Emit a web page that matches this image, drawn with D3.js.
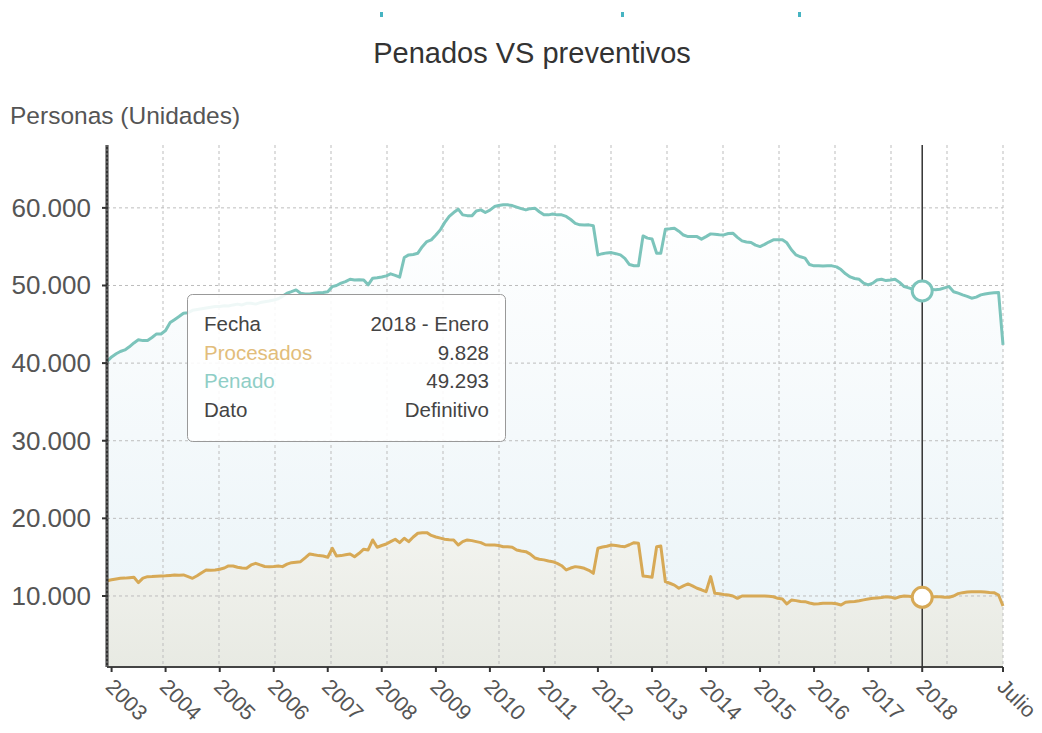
<!DOCTYPE html>
<html>
<head>
<meta charset="utf-8">
<style>
  body { margin: 0; background: #fff; }
  svg text { font-family: "Liberation Sans", Arial, sans-serif; }
</style>
</head>
<body>
<svg id="chart" width="1042" height="733"></svg>
<script src="https://cdn.jsdelivr.net/npm/d3@7/dist/d3.min.js"></script>
<script>
// monthly series, first value is Dic 2002, last one Julio 2019
var firstMonth = new Date(2002, 11, 1);
var lastMonth = new Date(2019, 6, 1);

var penado = [40200,
  40800, 41200, 41500, 41700, 42100, 42600, 43000, 42900, 42900, 43300, 43760, 43760,
  44200, 45220, 45600, 46000, 46430, 46500, 46800, 46900, 47000, 47100, 47200, 47280,
  47300, 47400, 47350, 47500, 47600, 47500, 47700, 47720, 47600, 47800, 47900, 48000,
  48140, 48300, 48600, 49000, 49200, 49430, 49000, 48920, 48900, 49000, 49050, 49090,
  49200, 49860, 50000, 50300, 50500, 50810, 50700, 50750, 50720, 50080, 50940, 51000,
  51100, 51240, 51500, 51300, 51070, 53600, 53940, 54000, 54160, 55000, 55660, 55880,
  56500, 57200, 58100, 58900, 59400, 59830, 59100, 59000, 58970, 59600, 59740, 59400,
  59700, 60170, 60300, 60390, 60390, 60300, 60100, 59900, 59740, 59900, 59960, 59500,
  59100, 59100, 59200, 59100, 59100, 58900, 58500, 58000, 57810, 57800, 57810, 57700,
  53940, 54100, 54200, 54240, 54100, 53940, 53500, 52700, 52550, 52530, 56390, 56100,
  56000, 54160, 54160, 57250, 57300, 57380, 57000, 56500, 56300, 56300, 56300, 55970,
  56300, 56650, 56600, 56550, 56520, 56700, 56740, 56200, 55750, 55600, 55530, 55200,
  55010, 55300, 55600, 55880, 55880, 55880, 55500, 54600, 53940, 53700, 53520, 52700,
  52530, 52550, 52500, 52530, 52530, 52400, 52050, 51500, 51100, 50900, 50800, 50300,
  50080, 50300, 50700, 50810, 50630, 50700, 50810, 50400, 49860, 49700, 49500, 49400,
  49293, 49400, 49500, 49450, 49520, 49700, 49860, 49200, 49010, 48800, 48600, 48360,
  48500, 48790, 48900, 49000, 49050, 49090, 42350];

var procesados = [11970,
  12100, 12200, 12280, 12300, 12350, 12410, 11720, 12300, 12490, 12500, 12550, 12580,
  12600, 12650, 12700, 12680, 12710, 12500, 12280, 12600, 13000, 13350, 13300, 13350,
  13440, 13600, 13870, 13870, 13700, 13600, 13570, 14000, 14210, 14000, 13800, 13780,
  13800, 13870, 13780, 14100, 14290, 14350, 14420, 14900, 15410, 15300, 15200, 15150,
  14990, 16150, 15150, 15200, 15300, 15410, 15060, 15500, 16020, 15930, 17220, 16280,
  16500, 16700, 17000, 17310, 16870, 17440, 17000, 17600, 18080, 18150, 18160, 17800,
  17600, 17450, 17310, 17250, 17220, 16570, 17000, 17220, 17130, 17000, 16870, 16600,
  16570, 16570, 16500, 16350, 16350, 16280, 15930, 15800, 15710, 15400, 14900, 14730,
  14650, 14500, 14420, 14200, 13900, 13350, 13600, 13780, 13700, 13570, 13300, 12920,
  16150, 16300, 16400, 16570, 16500, 16400, 16350, 16600, 16870, 16790, 12580, 12500,
  12410, 16350, 16440, 11840, 11640, 11400, 10990, 11300, 11550, 11300, 10990, 10800,
  10550, 12490, 10340, 10300, 10200, 10130, 10000, 9700, 10000, 10000, 10000, 10000,
  10000, 10000, 9950, 9900, 9700, 9600, 8970, 9480, 9400, 9300, 9270, 9100,
  8970, 9000, 9050, 9060, 9060, 9000, 8840, 9200, 9270, 9300, 9390, 9500,
  9600, 9700, 9750, 9800, 9910, 9850, 9700, 9900, 10000, 9950, 9900, 9850,
  9828, 9850, 9900, 9900, 9910, 9830, 9830, 10000, 10300, 10430, 10500, 10550,
  10550, 10550, 10500, 10450, 10430, 10130, 8710];

var yTicks = [10000, 20000, 30000, 40000, 50000, 60000];
var xTickYears = [2003, 2004, 2005, 2006, 2007, 2008, 2009, 2010, 2011, 2012, 2013, 2014, 2015, 2016, 2017, 2018];
var xTickLabels = ["2003", "2004", "2005", "2006", "2007", "2008", "2009", "2010", "2011", "2012", "2013", "2014", "2015", "2016", "2017", "2018", "Julio"];

var cursorMonth = new Date(2018, 0, 1);
var tipLabels = ["Fecha", "Procesados", "Penado", "Dato"];
var tipTexts = ["2018 - Enero", null, null, "Definitivo"];

var colPenado = "#7cc4bb", colProc = "#d7a956";

var months = d3.timeMonth.range(firstMonth, d3.timeMonth.offset(lastMonth, 1));
var rows = months.map(function(m, i) { return {date: m, pen: penado[i], proc: procesados[i]}; });

var es = d3.formatLocale({decimal: ",", thousands: ".", grouping: [3], currency: ["", " €"]});
var fmt = es.format(",d");

var pLeft = 107, pRight = 1003, pTop = 145, pBottom = 667;

var svg = d3.select("#chart");
var defs = svg.append("defs");

var gPen = defs.append("linearGradient").attr("id", "gpen")
  .attr("gradientUnits", "userSpaceOnUse").attr("x1", 0).attr("x2", 0).attr("y1", 200).attr("y2", pBottom);
gPen.append("stop").attr("offset", 0).attr("stop-color", "#ffffff");
gPen.append("stop").attr("offset", 1).attr("stop-color", "#e9f3f7");

var gProc = defs.append("linearGradient").attr("id", "gproc")
  .attr("gradientUnits", "userSpaceOnUse").attr("x1", 0).attr("x2", 0).attr("y1", 520).attr("y2", pBottom);
gProc.append("stop").attr("offset", 0).attr("stop-color", "#f3f4f0");
gProc.append("stop").attr("offset", 1).attr("stop-color", "#e8eae3");

var x = d3.scaleTime().domain([firstMonth, lastMonth]).range([pLeft, pRight]);
var y = d3.scaleLinear().domain([850, 68100]).range([pBottom, pTop]);
var gridX = d3.scaleLinear().domain([0, 16]).range([pLeft, pRight]);

// little cut-off marks from the block above
svg.selectAll("rect.cut").data([380, 621, 798]).enter().append("rect")
  .attr("x", function(d) { return d; }).attr("y", 12).attr("width", 3).attr("height", 5)
  .attr("fill", "#46b4c2");

svg.append("text").attr("x", 532).attr("y", 63).attr("text-anchor", "middle")
  .attr("font-size", 29).attr("fill", "#333").text("Penados VS preventivos");
svg.append("text").attr("x", 10).attr("y", 124)
  .attr("font-size", 24.5).attr("fill", "#555").text("Personas (Unidades)");

// areas
svg.append("path").datum(rows)
  .attr("d", d3.area().x(function(d) { return x(d.date); }).y0(pBottom).y1(function(d) { return y(d.pen); }))
  .attr("fill", "url(#gpen)");
svg.append("path").datum(rows)
  .attr("d", d3.area().x(function(d) { return x(d.date); }).y0(pBottom).y1(function(d) { return y(d.proc); }))
  .attr("fill", "url(#gproc)");

// grid
svg.selectAll("line.gy").data(yTicks).enter().append("line")
  .attr("x1", pLeft).attr("x2", pRight)
  .attr("y1", function(d) { return y(d); }).attr("y2", function(d) { return y(d); })
  .attr("stroke", "#bdbdbd").attr("stroke-dasharray", "3,3");
svg.selectAll("line.gx").data(d3.range(1, 17)).enter().append("line")
  .attr("x1", function(d) { return gridX(d); }).attr("x2", function(d) { return gridX(d); })
  .attr("y1", pTop).attr("y2", pBottom)
  .attr("stroke", "#bdbdbd").attr("stroke-dasharray", "3,3");

// lines
svg.append("path").datum(rows)
  .attr("d", d3.line().x(function(d) { return x(d.date); }).y(function(d) { return y(d.pen); }))
  .attr("fill", "none").attr("stroke", colPenado).attr("stroke-width", 3).attr("stroke-linejoin", "round");
svg.append("path").datum(rows)
  .attr("d", d3.line().x(function(d) { return x(d.date); }).y(function(d) { return y(d.proc); }))
  .attr("fill", "none").attr("stroke", colProc).attr("stroke-width", 3).attr("stroke-linejoin", "round");

// y axis
svg.append("line").attr("x1", pLeft).attr("x2", pLeft).attr("y1", pTop).attr("y2", pBottom)
  .attr("stroke", "#333").attr("stroke-width", 3);
svg.append("line").attr("x1", pLeft).attr("x2", pLeft).attr("y1", pTop).attr("y2", pBottom)
  .attr("stroke", "#888").attr("stroke-width", 1).attr("stroke-dasharray", "2,2");
svg.selectAll("line.yt").data(yTicks).enter().append("line")
  .attr("x1", pLeft - 5).attr("x2", pLeft)
  .attr("y1", function(d) { return y(d); }).attr("y2", function(d) { return y(d); })
  .attr("stroke", "#333").attr("stroke-width", 2);
svg.selectAll("text.yl").data(yTicks).enter().append("text")
  .attr("x", 91).attr("y", function(d) { return y(d) + 9; })
  .attr("text-anchor", "end").attr("font-size", 26).attr("fill", "#555")
  .text(function(d) { return fmt(d); });

// x axis
var xTicks = xTickYears.map(function(yr) { return new Date(yr, 0, 1); }).concat([lastMonth]);
svg.append("line").attr("x1", pLeft).attr("x2", pRight).attr("y1", pBottom).attr("y2", pBottom)
  .attr("stroke", "#444").attr("stroke-width", 2);
svg.selectAll("line.xt").data(xTicks).enter().append("line")
  .attr("x1", function(d) { return x(d); }).attr("x2", function(d) { return x(d); })
  .attr("y1", pBottom).attr("y2", pBottom + 5)
  .attr("stroke", "#333").attr("stroke-width", 2);
svg.selectAll("text.xl").data(xTicks).enter().append("text")
  .attr("transform", function(d) { return "translate(" + (x(d) - 7) + "," + 688 + ") rotate(45)"; })
  .attr("font-size", 21.5).attr("fill", "#555")
  .text(function(d, i) { return xTickLabels[i]; });

// cursor
var ci = d3.bisectLeft(months, cursorMonth);
var cur = rows[ci];
svg.append("line").attr("x1", x(cur.date)).attr("x2", x(cur.date)).attr("y1", pTop).attr("y2", pBottom)
  .attr("stroke", "#333").attr("stroke-width", 1.5);
[[cur.pen, colPenado], [cur.proc, colProc]].forEach(function(p) {
  svg.append("circle").attr("cx", x(cur.date)).attr("cy", y(p[0])).attr("r", 10)
    .attr("fill", "#fff").attr("stroke", p[1]).attr("stroke-width", 3);
});

// tooltip
tipTexts[1] = fmt(cur.proc);
tipTexts[2] = fmt(cur.pen);
var tipColors = ["#444", "#e2bd7b", "#8fcec6", "#444"];
var tip = svg.append("g");
tip.append("rect").attr("x", 187.5).attr("y", 294.5).attr("width", 318).attr("height", 147)
  .attr("rx", 5).attr("fill", "#fff").attr("fill-opacity", 0.88).attr("stroke", "#999");
tipLabels.forEach(function(t, i) {
  tip.append("text").attr("x", 204).attr("y", 331 + i * 28.6)
    .attr("font-size", 20.5).attr("fill", tipColors[i]).text(t);
  tip.append("text").attr("x", 489).attr("y", 331 + i * 28.6).attr("text-anchor", "end")
    .attr("font-size", 20.5).attr("fill", "#444").text(tipTexts[i]);
});
</script>
</body>
</html>
